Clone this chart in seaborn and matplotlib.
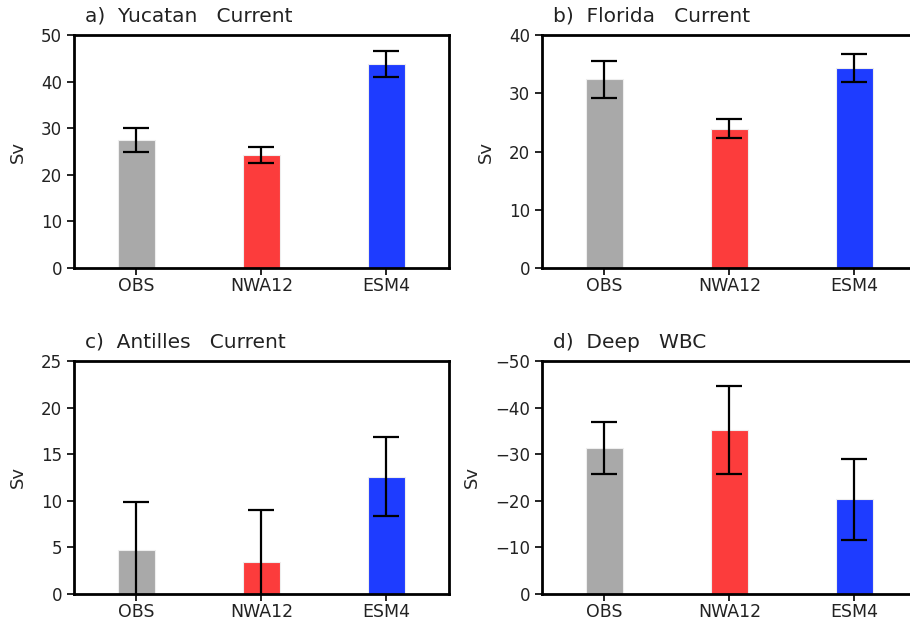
import numpy as np
import pandas as pd
import seaborn as sns
import matplotlib.pyplot as plt

sns.set_style("ticks")
plt.rcParams['font.family'] = ['DejaVu Sans']

models = ['OBS', 'NWA12', 'ESM4']
colors = ['#a9a9a9', '#fc3c3c', '#1e3cff']

titles = ['a)  Yucatan   Current', 'b)  Florida   Current',
          'c)  Antilles   Current', 'd)  Deep   WBC']

yucatan = [27.5, 24.2, 43.8]
yucatan_err = [2.65, 1.75, 2.85]
florida = [32.4, 23.95, 34.3]
florida_err = [3.2, 1.65, 2.45]
antilles = [4.7, 3.4, 12.6]
antilles_err = [5.2, 5.6, 4.2]
deep_wbc = [-31.3, -35.2, -20.3]
deep_wbc_err = [5.5, 9.5, 8.7]

series = [yucatan, florida, antilles, deep_wbc]
errs = [yucatan_err, florida_err, antilles_err, deep_wbc_err]
ylims = [(0, 50), (0, 40), (0, 25), (0, -50)]
yticks = [np.arange(0, 51, 10), np.arange(0, 41, 10),
          np.arange(0, 26, 5), np.arange(0, -51, -10)]

fig = plt.figure(figsize=(9.1, 6.21), dpi=100)
# axes boxes [left, bottom, width, height]
boxes = [[0.0813, 0.5684, 0.412, 0.3752],
         [0.5956, 0.5684, 0.412, 0.3752],
         [0.0813, 0.0435, 0.412, 0.3752],
         [0.5956, 0.0435, 0.412, 0.3752]]

for i in range(4):
    ax = fig.add_axes(boxes[i])
    df = pd.DataFrame({'model': models, 'value': series[i]})
    sns.barplot(data=df, x='model', y='value', hue='model', palette=colors,
                saturation=1, width=0.3, errorbar=None, legend=False, ax=ax,
                edgecolor='#eeeeee', linewidth=0.8)
    ax.errorbar(np.arange(3), series[i], yerr=errs[i], fmt='none',
                ecolor='black', elinewidth=1.6, capsize=9.5, capthick=1.6,
                zorder=5)
    ax.set_xlim(-0.5, 2.5)
    ax.set_ylim(*ylims[i])
    ax.set_yticks(yticks[i])
    ax.set_xlabel('')
    ax.set_ylabel('Sv', fontsize=13, labelpad=10)
    ax.tick_params(axis='both', direction='out', length=5, width=1.2,
                   color='black', labelcolor='#222222')
    ax.tick_params(axis='y', labelsize=12)
    ax.tick_params(axis='x', labelsize=12.5, pad=1.5)
    for s in ax.spines.values():
        s.set_linewidth(2)
        s.set_color('black')
    ax.text(0.03, 1.04, titles[i], transform=ax.transAxes, fontsize=14.5,
            ha='left', va='bottom', color='#222222')

fig.savefig('out.png', dpi=100)
